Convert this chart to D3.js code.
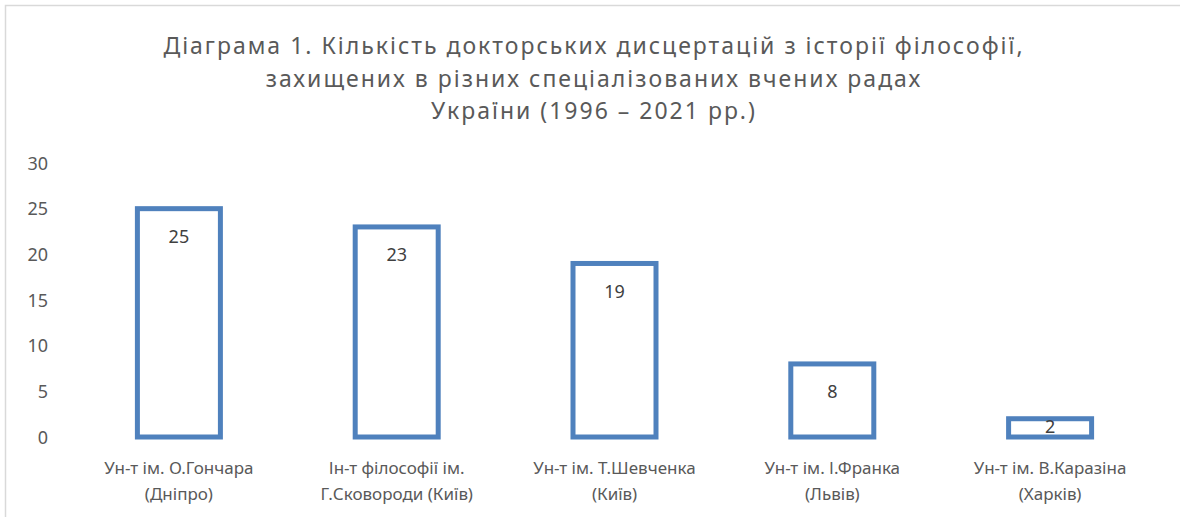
<!DOCTYPE html>
<html><head><meta charset="utf-8">
<script src="https://cdn.jsdelivr.net/npm/d3@7"></script>
<style>body{margin:0;background:#fff;}svg{display:block;}</style>
</head><body>
<svg id="chart" width="1180" height="517"></svg>
<script>
const categories = [
  ["Ун-т ім. О.Гончара", "(Дніпро)"],
  ["Ін-т філософії ім.", "Г.Сковороди (Київ)"],
  ["Ун-т ім. Т.Шевченка", "(Київ)"],
  ["Ун-т ім. І.Франка", "(Львів)"],
  ["Ун-т ім. В.Каразіна", "(Харків)"]
];
const values = [25, 23, 19, 8, 2];
const yTicks = [0, 5, 10, 15, 20, 25, 30];
const titleLines = [
  "Діаграма 1. Кількість докторських дисцертацій з історії філософії,",
  "захищених в різних спеціалізованих вчених радах",
  "України (1996 – 2021 рр.)"
];

const font = "'Noto Sans', 'Open Sans', sans-serif";
const svg = d3.select("#chart");
svg.append("rect").attr("x",5.5).attr("y",5.5).attr("width",1300).attr("height",700)
  .attr("fill","#fff").attr("stroke","#d9d9d9").attr("stroke-width",1.5);

const plotLeft = 70, plotRight = 1159, plotTop = 163, plotBottom = 437;
const x = d3.scaleBand().domain(d3.range(categories.length)).range([plotLeft, plotRight]).paddingInner(0.62).paddingOuter(0.31);
const y = d3.scaleLinear().domain([0, 30]).range([plotBottom, plotTop]);

// title
svg.append("g").selectAll("text").data(titleLines).join("text")
  .attr("x", 594).attr("y", (d,i)=> 54 + i*32.5)
  .attr("text-anchor","middle").attr("font-family",font).attr("font-size",23)
  .attr("letter-spacing",2).attr("fill","#595959").text(d=>d);

// y axis
const yAxis = d3.axisLeft(y).tickValues(yTicks).tickSize(0).tickPadding(0);
const gy = svg.append("g").attr("transform","translate(48,0)").call(yAxis);
gy.select(".domain").remove();
gy.selectAll("text").attr("font-family",font).attr("font-size",18).attr("fill","#595959").attr("dy","0.35em");

// bars
const bw = 83;
svg.append("g").selectAll("rect").data(values).join("rect")
  .attr("x",(d,i)=> x(i) + x.bandwidth()/2 - bw/2)
  .attr("y",d=> y(d))
  .attr("width", bw)
  .attr("height", d=> y(0)-y(d))
  .attr("fill","#fff").attr("stroke","#4f81bd").attr("stroke-width",5);

// data labels
svg.append("g").selectAll("text").data(values).join("text")
  .attr("x",(d,i)=> x(i) + x.bandwidth()/2)
  .attr("y",d=> (y(0)-y(d) > 40) ? y(d)+28 : (y(d)+y(0))/2 - 1)
  .attr("dy","0.35em")
  .attr("text-anchor","middle").attr("font-family",font).attr("font-size",18)
  .attr("fill","#404040").text(d=>d);

// x axis labels
const xAxis = d3.axisBottom(x).tickSize(0).tickFormat(()=>"");
const gx = svg.append("g").attr("transform",`translate(0,${plotBottom})`).call(xAxis);
gx.select(".domain").remove();
const lab = svg.append("g").selectAll("text").data(categories).join("text")
  .attr("x",(d,i)=> x(i) + x.bandwidth()/2)
  .attr("y", 474)
  .attr("text-anchor","middle").attr("font-family",font).attr("font-size",17).attr("fill","#595959");
lab.selectAll("tspan").data(d=>d).join("tspan")
  .attr("x",function(){return this.parentNode.getAttribute("x");})
  .attr("dy",(d,i)=> i===0 ? 0 : 26).text(d=>d);
</script>
</body></html>
